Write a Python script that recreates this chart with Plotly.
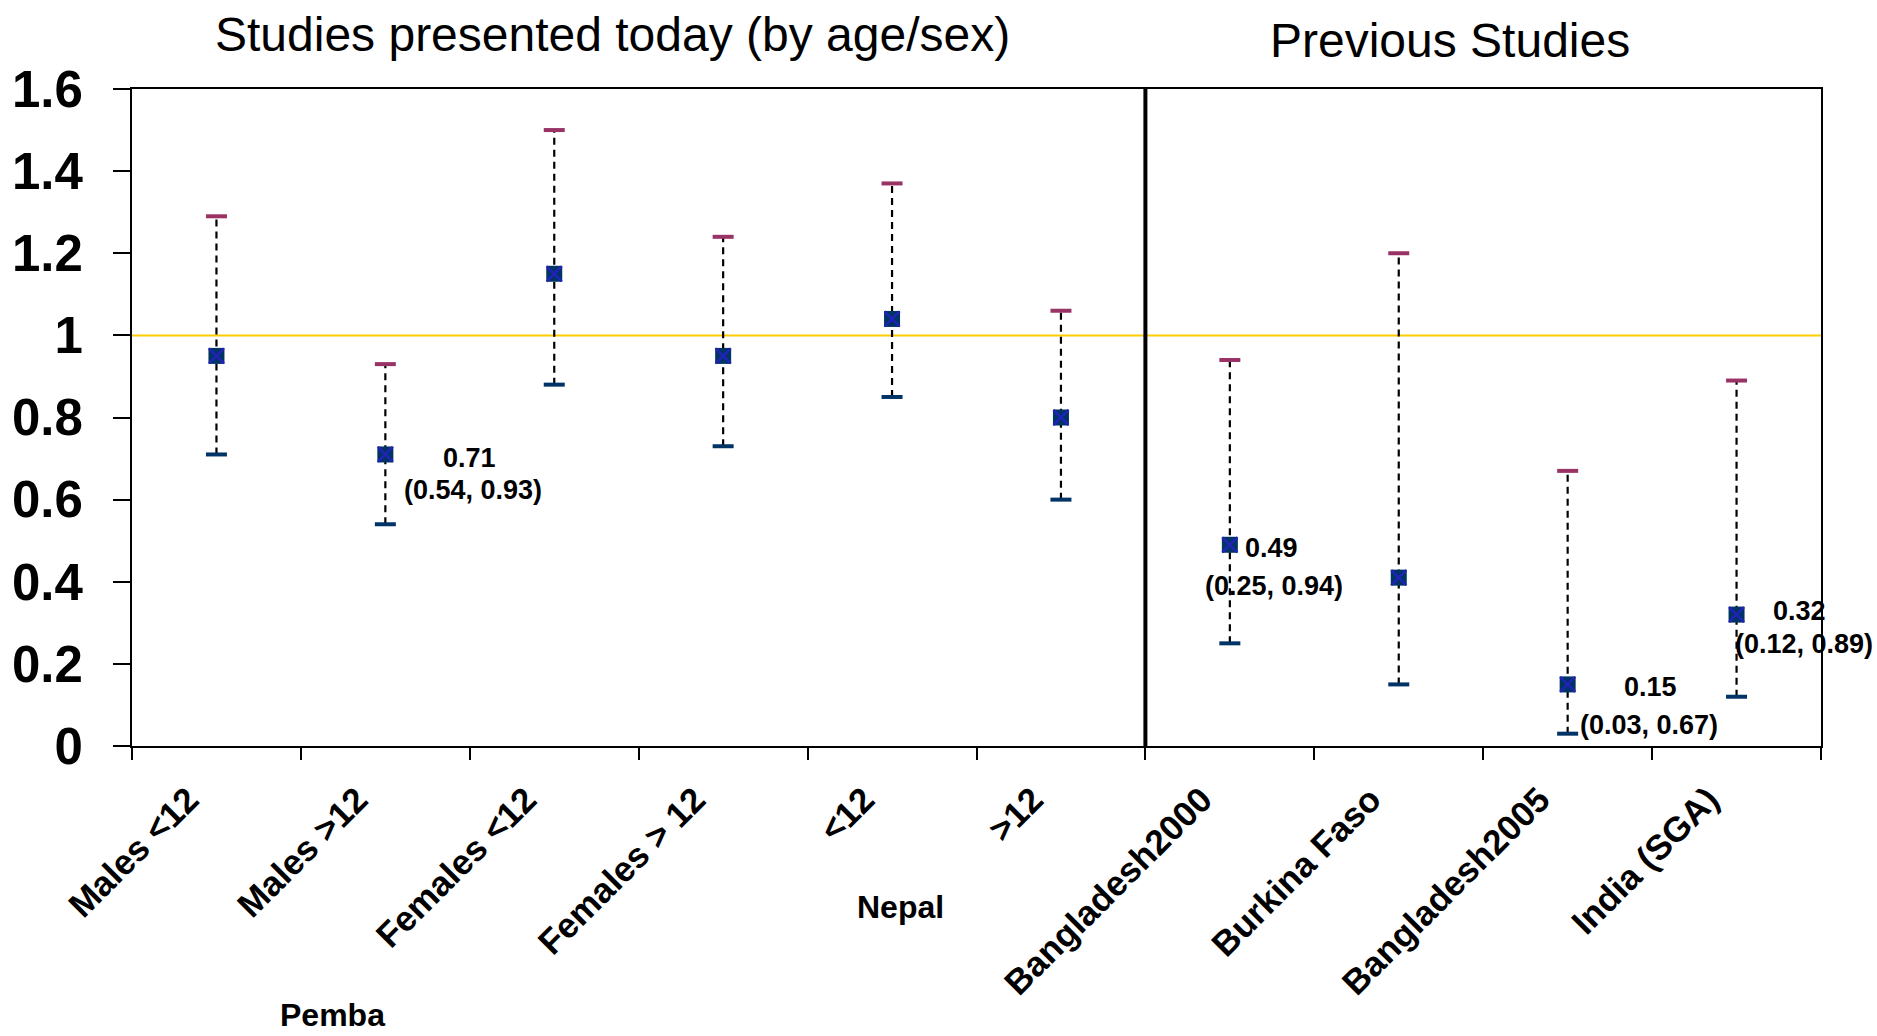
import plotly.graph_objects as go

# Categories (bottom axis), ratio estimates and 95% confidence limits
categories = ["Males <12", "Males >12", "Females <12", "Females > 12", "<12", ">12",
              "Bangladesh2000", "Burkina Faso", "Bangladesh2005", "India (SGA)"]
estimate = [0.95, 0.71, 1.15, 0.95, 1.04, 0.80, 0.49, 0.41, 0.15, 0.32]
lower = [0.71, 0.54, 0.88, 0.73, 0.85, 0.60, 0.25, 0.15, 0.03, 0.12]
upper = [1.29, 0.93, 1.50, 1.24, 1.37, 1.06, 0.94, 1.20, 0.67, 0.89]

# Which estimates carry a value label, and where the two label lines sit (px offsets)
labelled = ["Males >12", "Bangladesh2000", "Bangladesh2005", "India (SGA)"]
label_offsets = {
    "Males >12": ((84, -4), (88, -36)),
    "Bangladesh2000": ((42, -3), (44, -41)),
    "Bangladesh2005": ((83, -3), (81, -41)),
    "India (SGA)": ((63, 4), (67, -29)),
}

y_ticks = [0, 0.2, 0.4, 0.6, 0.8, 1, 1.2, 1.4, 1.6]
y_ticktext = ["0", "0.2", "0.4", "0.6", "0.8", "1", "1.2", "1.4", "1.6"]

group_titles = ["Studies presented today (by age/sex)", "Previous Studies"]
site_labels = ["Pemba", "Nepal"]

FONT = "Liberation Sans, Arial, sans-serif"

fig = go.Figure()

# dashed whiskers from lower to upper limit
wx, wy = [], []
for c, lo, hi in zip(categories, lower, upper):
    wx += [c, c, None]
    wy += [lo, hi, None]
fig.add_trace(go.Scatter(x=wx, y=wy, mode="lines",
                         line=dict(color="black", width=2.2, dash="7px,5px"),
                         hoverinfo="skip", showlegend=False))

# upper caps (maroon) and lower caps (navy)
fig.add_trace(go.Scatter(x=categories, y=upper, mode="markers",
                         marker=dict(symbol="line-ew", size=15,
                                     line=dict(color="#993366", width=4)),
                         showlegend=False))
fig.add_trace(go.Scatter(x=categories, y=lower, mode="markers",
                         marker=dict(symbol="line-ew", size=15,
                                     line=dict(color="#003366", width=4)),
                         showlegend=False))

# point estimates: navy square with a cross
fig.add_trace(go.Scatter(x=categories, y=estimate, mode="markers",
                         marker=dict(symbol="square", size=16, color="#003366",
                                     line=dict(width=0)),
                         showlegend=False))
fig.add_trace(go.Scatter(x=categories, y=estimate, mode="markers",
                         marker=dict(symbol="x-thin", size=15,
                                     line=dict(color="#2222b8", width=2.5)),
                         showlegend=False))

# reference line at 1
fig.add_shape(type="line", xref="paper", yref="y", x0=0, x1=1, y0=1, y1=1,
              line=dict(color="#FFCC00", width=2), layer="below")
# separator between the two groups of studies
fig.add_shape(type="line", xref="x", yref="paper", x0=5.5, x1=5.5, y0=0, y1=1,
              line=dict(color="black", width=4))

# value labels
for c, e, lo, hi in zip(categories, estimate, lower, upper):
    if c in labelled:
        (dx1, dy1), (dx2, dy2) = label_offsets[c]
        fig.add_annotation(x=c, y=e, xref="x", yref="y", text=f"{e:.2f}",
                           showarrow=False, xshift=dx1, yshift=dy1,
                           xanchor="center", yanchor="middle",
                           font=dict(family=FONT, size=27, color="black", weight="bold"))
        fig.add_annotation(x=c, y=e, xref="x", yref="y", text=f"({lo:.2f}, {hi:.2f})",
                           showarrow=False, xshift=dx2, yshift=dy2,
                           xanchor="center", yanchor="middle",
                           font=dict(family=FONT, size=27, color="black", weight="bold"))

# group titles above the plot
fig.add_annotation(x=0.2847, y=1, xref="paper", yref="paper", text=group_titles[0],
                   showarrow=False, xanchor="center", yanchor="middle", yshift=55,
                   font=dict(family=FONT, size=48, color="black"))
fig.add_annotation(x=0.7803, y=1, xref="paper", yref="paper", text=group_titles[1],
                   showarrow=False, xanchor="center", yanchor="middle", yshift=49,
                   font=dict(family=FONT, size=48, color="black"))

# site labels under the rotated category names
fig.add_annotation(x=0.1187, y=-0.409, xref="paper", yref="paper", text=site_labels[0],
                   showarrow=False, xanchor="center", yanchor="middle",
                   font=dict(family=FONT, size=32, color="black", weight="bold"))
fig.add_annotation(x=0.4548, y=-0.245, xref="paper", yref="paper", text=site_labels[1],
                   showarrow=False, xanchor="center", yanchor="middle",
                   font=dict(family=FONT, size=32, color="black", weight="bold"))

fig.update_layout(
    width=1877, height=1036, autosize=False,
    margin=dict(l=128, r=56, t=89, b=290),
    paper_bgcolor="white", plot_bgcolor="white",
    showlegend=False,
    font=dict(family=FONT, color="black"),
    xaxis=dict(type="category", categoryorder="array", categoryarray=categories,
               range=[-0.5, 9.5], tickson="boundaries", ticks="outside", ticklen=12,
               tickwidth=2, tickcolor="black", showline=True, linecolor="black",
               linewidth=2, mirror=True, showgrid=False, tickangle=-45,
               ticklabelshift=-28, ticklabelstandoff=17,
               tickfont=dict(family=FONT, size=35, color="black", weight="bold")),
    yaxis=dict(range=[0, 1.6], tickvals=y_ticks, ticktext=y_ticktext,
               ticks="outside", ticklen=17, tickwidth=2, tickcolor="black",
               showline=True, linecolor="black", linewidth=2, mirror=True,
               showgrid=False, zeroline=False, ticklabelstandoff=20,
               tickfont=dict(family=FONT, size=51, color="black", weight="bold")),
)

fig.write_html("out.html")
